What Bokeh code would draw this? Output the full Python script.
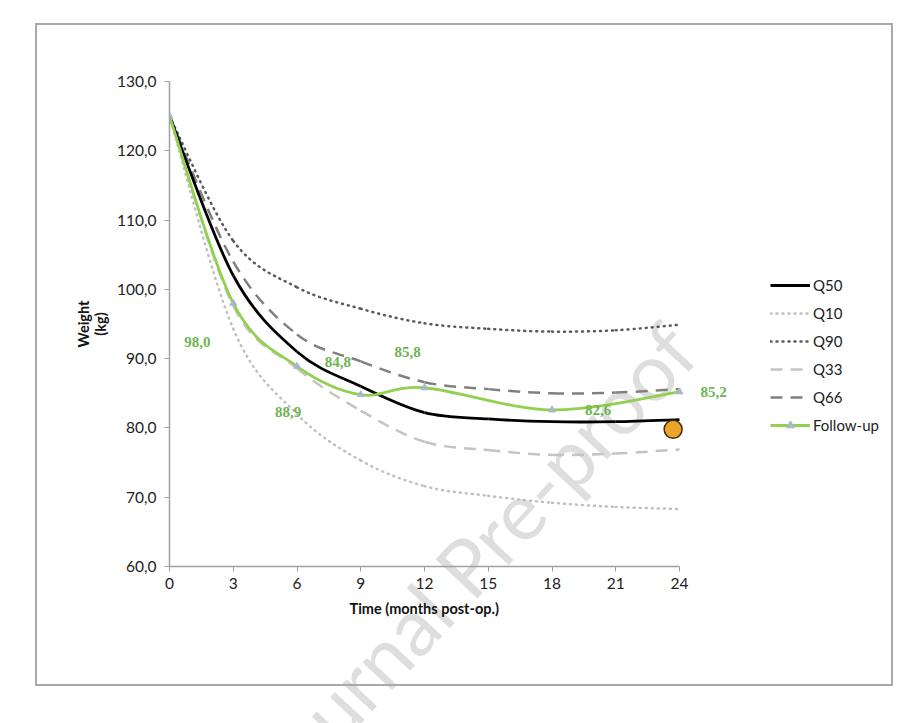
from bokeh.plotting import figure
from bokeh.models import (Range1d, FixedTicker, Legend, LegendItem, Title, Div,
                          ColumnDataSource)
from bokeh.layouts import column
from bokeh.embed import file_html
from bokeh.resources import INLINE

# ---------------- data ----------------
months = [0, 3, 6, 9, 12, 15, 18, 21, 24]
q50 = [125.0, 102.0, 91.0, 86.0, 82.2, 81.3, 80.9, 80.9, 81.2]
q10 = [125.0, 94.3, 82.0, 75.3, 71.6, 70.2, 69.2, 68.6, 68.3]
q90 = [125.0, 107.0, 100.3, 97.2, 95.1, 94.3, 93.9, 94.1, 94.9]
q33 = [125.0, 97.6, 88.6, 82.5, 78.0, 76.8, 76.1, 76.3, 76.9]
q66 = [125.0, 104.0, 93.5, 89.6, 86.6, 85.6, 85.0, 85.1, 85.6]

fu_months = [0, 3, 6, 9, 12, 18, 24]
fu_weight = [125.0, 98.0, 88.9, 84.8, 85.8, 82.6, 85.2]

# labelled follow-up points (index into follow-up arrays)
label_idx = [1, 2, 3, 4, 5, 6]

current_month = [23.7]
current_weight = [79.8]

x_ticks = [0, 3, 6, 9, 12, 15, 18, 21, 24]
y_ticks = [60, 70, 80, 90, 100, 110, 120, 130]

x_title = "Time (months post-op.)"
y_title = "Weight\n(kg)"
watermark = "Journal Pre-proof"

# styling (pixel offsets for the data labels)
label_dx = [-36, -9, -23, -17, 46, 34]
label_dy = [39, 46, -33, -36, 0, 0]

FONT = "Lato"

# layout: the plot area extends to the right to hold the legend;
# the x axis itself is bounded to 0..24 months
X_END = 24 * 716 / 510


def fmt(v):
    return f"{v:.1f}".replace(".", ",")


def bezier_source(xs, ys):
    """Excel-like smoothed line: Catmull-Rom segments expressed as cubic Beziers."""
    n = len(xs)
    d = dict(x0=[], y0=[], x1=[], y1=[], cx0=[], cy0=[], cx1=[], cy1=[])
    for i in range(n - 1):
        xp, yp = (xs[i - 1], ys[i - 1]) if i > 0 else (xs[i], ys[i])
        xn2, yn2 = (xs[i + 2], ys[i + 2]) if i + 2 < n else (xs[i + 1], ys[i + 1])
        d["x0"].append(xs[i]); d["y0"].append(ys[i])
        d["x1"].append(xs[i + 1]); d["y1"].append(ys[i + 1])
        d["cx0"].append(xs[i] + (xs[i + 1] - xp) / 6.0)
        d["cy0"].append(ys[i] + (ys[i + 1] - yp) / 6.0)
        d["cx1"].append(xs[i + 1] - (xn2 - xs[i]) / 6.0)
        d["cy1"].append(ys[i + 1] - (yn2 - ys[i]) / 6.0)
    return ColumnDataSource(d)


p = figure(width=858, height=663, output_backend="svg", toolbar_location=None,
           x_range=Range1d(0, X_END), y_range=Range1d(60, 130),
           min_border_left=132, min_border_right=10, min_border_top=56,
           min_border_bottom=122,
           margin=(23, 0, 0, 35),
           styles={"border": "2px solid #a9a9a9"})
p.outline_line_color = None
p.xgrid.visible = False
p.ygrid.visible = False
p.background_fill_alpha = 0
p.border_fill_alpha = 0

# axes
for ax in (p.xaxis[0], p.yaxis[0]):
    ax.axis_line_color = "#a0a0a0"
    ax.axis_line_width = 1.5
    ax.major_tick_line_color = "#a0a0a0"
    ax.major_tick_out = 5
    ax.major_tick_in = 0
    ax.minor_tick_line_color = None
    ax.major_label_text_font = FONT
    ax.major_label_text_font_size = "15.5px"
    ax.major_label_text_color = "#222222"
    ax.axis_label_text_font = FONT
    ax.axis_label_text_font_style = "bold"
    ax.axis_label_text_font_size = "14.5px"
    ax.axis_label_text_color = "#111111"

p.xaxis.bounds = (0, 24)
p.xaxis.ticker = FixedTicker(ticks=x_ticks)
p.yaxis.ticker = FixedTicker(ticks=y_ticks)
p.yaxis.major_label_overrides = {t: fmt(t) for t in y_ticks}
p.xaxis.major_label_overrides = {t: str(t) for t in x_ticks}
p.yaxis.axis_label = y_title
p.yaxis.axis_label_text_line_height = 1.0
p.yaxis.axis_label_standoff = 5
p.xaxis.major_label_standoff = 6
p.yaxis.major_label_standoff = 8

# x-axis title, centred under the 0..24 span of the axis
p.add_layout(Title(text=x_title, align="left", offset=180, standoff=12,
                   text_font=FONT, text_font_style="bold", text_font_size="14.5px",
                   text_color="#111111"), "below")

# quantile curves
r10 = p.bezier(x0="x0", y0="y0", x1="x1", y1="y1", cx0="cx0", cy0="cy0", cx1="cx1", cy1="cy1",
               source=bezier_source(months, q10), line_color="#c0c0c0", line_width=2.5,
               line_dash="1 5", line_cap="round")
r33 = p.bezier(x0="x0", y0="y0", x1="x1", y1="y1", cx0="cx0", cy0="cy0", cx1="cx1", cy1="cy1",
               source=bezier_source(months, q33), line_color="#c4c4c4", line_width=2.5,
               line_dash="12 8")
r66 = p.bezier(x0="x0", y0="y0", x1="x1", y1="y1", cx0="cx0", cy0="cy0", cx1="cx1", cy1="cy1",
               source=bezier_source(months, q66), line_color="#808080", line_width=2.5,
               line_dash="12 8")
r90 = p.bezier(x0="x0", y0="y0", x1="x1", y1="y1", cx0="cx0", cy0="cy0", cx1="cx1", cy1="cy1",
               source=bezier_source(months, q90), line_color="#5a5a5a", line_width=2.5,
               line_dash="1 5", line_cap="round")
r50 = p.bezier(x0="x0", y0="y0", x1="x1", y1="y1", cx0="cx0", cy0="cy0", cx1="cx1", cy1="cy1",
               source=bezier_source(months, q50), line_color="black", line_width=2.8)

# follow-up
rfu = p.bezier(x0="x0", y0="y0", x1="x1", y1="y1", cx0="cx0", cy0="cy0", cx1="cx1", cy1="cy1",
               source=bezier_source(fu_months, fu_weight), line_color="#92d050", line_width=2.8)
rfm = p.scatter(fu_months, fu_weight, marker="triangle", size=7, fill_color="#a8b8cc",
                line_color="#a8b8cc")

# data labels
lab = ColumnDataSource(dict(
    x=[fu_months[i] for i in label_idx],
    y=[fu_weight[i] for i in label_idx],
    t=[fmt(fu_weight[i]) for i in label_idx],
    dx=label_dx, dy=label_dy))
p.text(x="x", y="y", text="t", x_offset="dx", y_offset="dy", source=lab,
       text_align="center", text_baseline="middle", text_color="#6db552",
       text_font=FONT, text_font_size="15px", text_font_style="bold")

# current patient point
p.scatter(current_month, current_weight, marker="circle", size=18, fill_color="#eea42a",
          line_color="#3a2a10", line_width=1.5)

legend = Legend(items=[
    LegendItem(label="Q50", renderers=[r50]),
    LegendItem(label="Q10", renderers=[r10]),
    LegendItem(label="Q90", renderers=[r90]),
    LegendItem(label="Q33", renderers=[r33]),
    LegendItem(label="Q66", renderers=[r66]),
    LegendItem(label="Follow-up", renderers=[rfu, rfm]),
], location=(601, 131), orientation="vertical")
legend.border_line_color = None
legend.background_fill_alpha = 0
legend.padding = 0
legend.margin = 0
legend.spacing = 8
legend.glyph_width = 40
legend.glyph_height = 20
legend.label_height = 20
legend.label_standoff = 3
legend.label_text_font = FONT
legend.label_text_font_size = "15px"
legend.label_text_color = "#222222"
p.add_layout(legend)

# watermark placed behind the (transparent) chart, not clipped by the plot frame
WM_W, WM_H, WM_CX, WM_CY = 680, 100, 466, 555
wm = Div(text=watermark, width=WM_W, height=WM_H,
         styles={"position": "absolute",
                 "left": f"{WM_CX - WM_W // 2}px", "top": f"{WM_CY - WM_H // 2}px",
                 "transform": "rotate(-47deg)", "transform-origin": "50% 50%",
                 "font-family": FONT, "font-size": "80px", "line-height": f"{WM_H}px",
                 "text-align": "center", "white-space": "nowrap",
                 "color": "#dedede", "pointer-events": "none"})

layout = column(wm, p)
open("out.html", "w").write(file_html(layout, INLINE))
